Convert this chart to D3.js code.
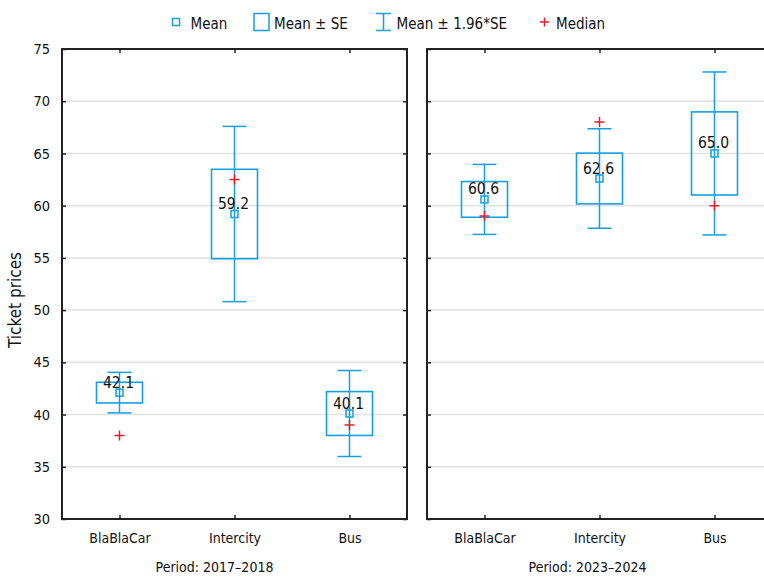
<!DOCTYPE html>
<html>
<head>
<meta charset="utf-8">
<script src="https://cdn.jsdelivr.net/npm/d3@7"></script>
<style>
  html, body { margin: 0; padding: 0; background: #fff; }
  svg { display: block; }
  text { font-family: "DejaVu Sans Condensed", "DejaVu Sans", sans-serif; fill: #111; }
</style>
</head>
<body>
<script>
// ---- data ----
const categories = ["BlaBlaCar", "Intercity", "Bus"];
const periods = ["Period: 2017–2018", "Period: 2023–2024"];
const means1 = [42.1, 59.2, 40.1];
const se1 = [0.99, 4.28, 2.1];
const medians1 = [38.0, 62.5, 39.0];
const means2 = [60.6, 62.6, 65.0];
const se2 = [1.71, 2.43, 3.98];
const medians2 = [59.0, 68.0, 60.0];
const yTicks = [30, 35, 40, 45, 50, 55, 60, 65, 70, 75];
const legendLabels = ["Mean", "Mean ± SE", "Mean ± 1.96*SE", "Median"];
const yTitle = "Ticket prices";

// ---- layout ----
const W = 764, H = 578;
const blue = "#14a0e0", red = "#e3202a";
const yTop = 49, yBot = 519;
const panels = [
  { x0: 62, x1: 407, means: means1, se: se1, medians: medians1, title: periods[0], titleX: 214.5 },
  { x0: 427, x1: 772, means: means2, se: se2, medians: medians2, title: periods[1], titleX: 587.5 }
];

const svg = d3.select("body").append("svg").attr("width", W).attr("height", H);
const y = d3.scaleLinear().domain([30, 75]).range([yBot, yTop]);

panels.forEach((p, pi) => {
  const x = d3.scalePoint().domain(categories).range([p.x0, p.x1]).padding(0.5);
  const g = svg.append("g");

  // gridlines
  g.selectAll("line.grid").data(yTicks.filter(t => t > 30 && t < 75)).join("line")
    .attr("x1", p.x0).attr("x2", p.x1)
    .attr("y1", d => y(d)).attr("y2", d => y(d))
    .attr("stroke", "#e2e2e2").attr("stroke-width", 1.5);

  // axes (inside ticks)
  const left = g.append("g").attr("transform", `translate(${p.x0},0)`)
    .call(d3.axisLeft(y).tickValues(yTicks).tickSize(-4).tickPadding(12)
      .tickFormat(pi === 0 ? d3.format("d") : ""));
  const right = g.append("g").attr("transform", `translate(${p.x1},0)`)
    .call(d3.axisRight(y).tickValues(yTicks).tickSize(-4).tickFormat(""));
  const bot = g.append("g").attr("transform", `translate(0,${yBot})`)
    .call(d3.axisBottom(x).tickSize(-4).tickPadding(14));
  const tp = g.append("g").attr("transform", `translate(0,${yTop})`)
    .call(d3.axisTop(x).tickSize(-4).tickFormat(""));
  [left, right, bot, tp].forEach(a => {
    a.select(".domain").remove();
    a.selectAll(".tick line").attr("stroke", "#222").attr("stroke-width", 1.5);
    a.selectAll("text").attr("fill", "#111")
      .style("font-family", "'DejaVu Sans Condensed', 'DejaVu Sans', sans-serif");
  });
  left.selectAll("text").style("font-size", "14.5px");
  bot.selectAll("text").style("font-size", "14px");

  // frame
  g.append("rect").attr("x", p.x0).attr("y", yTop)
    .attr("width", p.x1 - p.x0).attr("height", yBot - yTop)
    .attr("fill", "none").attr("stroke", "#222").attr("stroke-width", 2);

  // period title
  svg.append("text").attr("x", p.titleX).attr("y", 576)
    .attr("text-anchor", "middle").style("font-size", "14px")
    .attr("dy", "-0.3em").text(p.title);

  const boxW = 46, capW = 24, sq = 7;
  categories.forEach((c, i) => {
    const cx = x(c), m = p.means[i], s = p.se[i];
    const gi = g.append("g");
    // whisker
    gi.append("line").attr("x1", cx).attr("x2", cx)
      .attr("y1", y(m + 1.96 * s)).attr("y2", y(m - 1.96 * s))
      .attr("stroke", blue).attr("stroke-width", 1.5);
    [m + 1.96 * s, m - 1.96 * s].forEach(v => {
      gi.append("line").attr("x1", cx - capW / 2).attr("x2", cx + capW / 2)
        .attr("y1", y(v)).attr("y2", y(v))
        .attr("stroke", blue).attr("stroke-width", 1.5);
    });
    // SE box
    gi.append("rect").attr("x", cx - boxW / 2).attr("y", y(m + s))
      .attr("width", boxW).attr("height", y(m - s) - y(m + s))
      .attr("fill", "none").attr("stroke", blue).attr("stroke-width", 1.6);
    // mean square
    gi.append("rect").attr("x", cx - sq / 2).attr("y", y(m) - sq / 2)
      .attr("width", sq).attr("height", sq)
      .attr("fill", "none").attr("stroke", blue).attr("stroke-width", 1.5);
    // median plus
    const md = p.medians[i], ps = 5;
    gi.append("path")
      .attr("d", `M${cx - ps},${y(md)}H${cx + ps}M${cx},${y(md) - ps}V${y(md) + ps}`)
      .attr("stroke", red).attr("stroke-width", 1.5).attr("fill", "none");
    // value label
    gi.append("text").attr("x", cx - 1).attr("y", y(m) - 5)
      .attr("text-anchor", "middle").style("font-size", "15.5px")
      .text(m.toFixed(1));
  });
});

// y title
svg.append("text").attr("transform", "translate(21,300) rotate(-90)")
  .attr("text-anchor", "middle").style("font-size", "17px").text(yTitle);

// legend
const lg = svg.append("g");
const ly = 22;
lg.append("rect").attr("x", 172.5).attr("y", ly - 3.5).attr("width", 7).attr("height", 7)
  .attr("fill", "none").attr("stroke", blue).attr("stroke-width", 1.5);
lg.append("rect").attr("x", 254).attr("y", 13.5).attr("width", 15).attr("height", 17)
  .attr("fill", "none").attr("stroke", blue).attr("stroke-width", 1.5);
lg.append("path").attr("d", "M376,13.5H391M383.5,13.5V30.5M376,30.5H391")
  .attr("stroke", blue).attr("stroke-width", 1.5).attr("fill", "none");
lg.append("path").attr("d", `M540,${ly}H549M544.5,${ly - 4.5}V${ly + 4.5}`)
  .attr("stroke", red).attr("stroke-width", 1.5).attr("fill", "none");
const lx = [190.5, 274, 396.5, 556];
lg.selectAll("text").data(legendLabels).join("text")
  .attr("x", (d, i) => lx[i]).attr("y", 29).style("font-size", "15px").text(d => d);
</script>
</body>
</html>
